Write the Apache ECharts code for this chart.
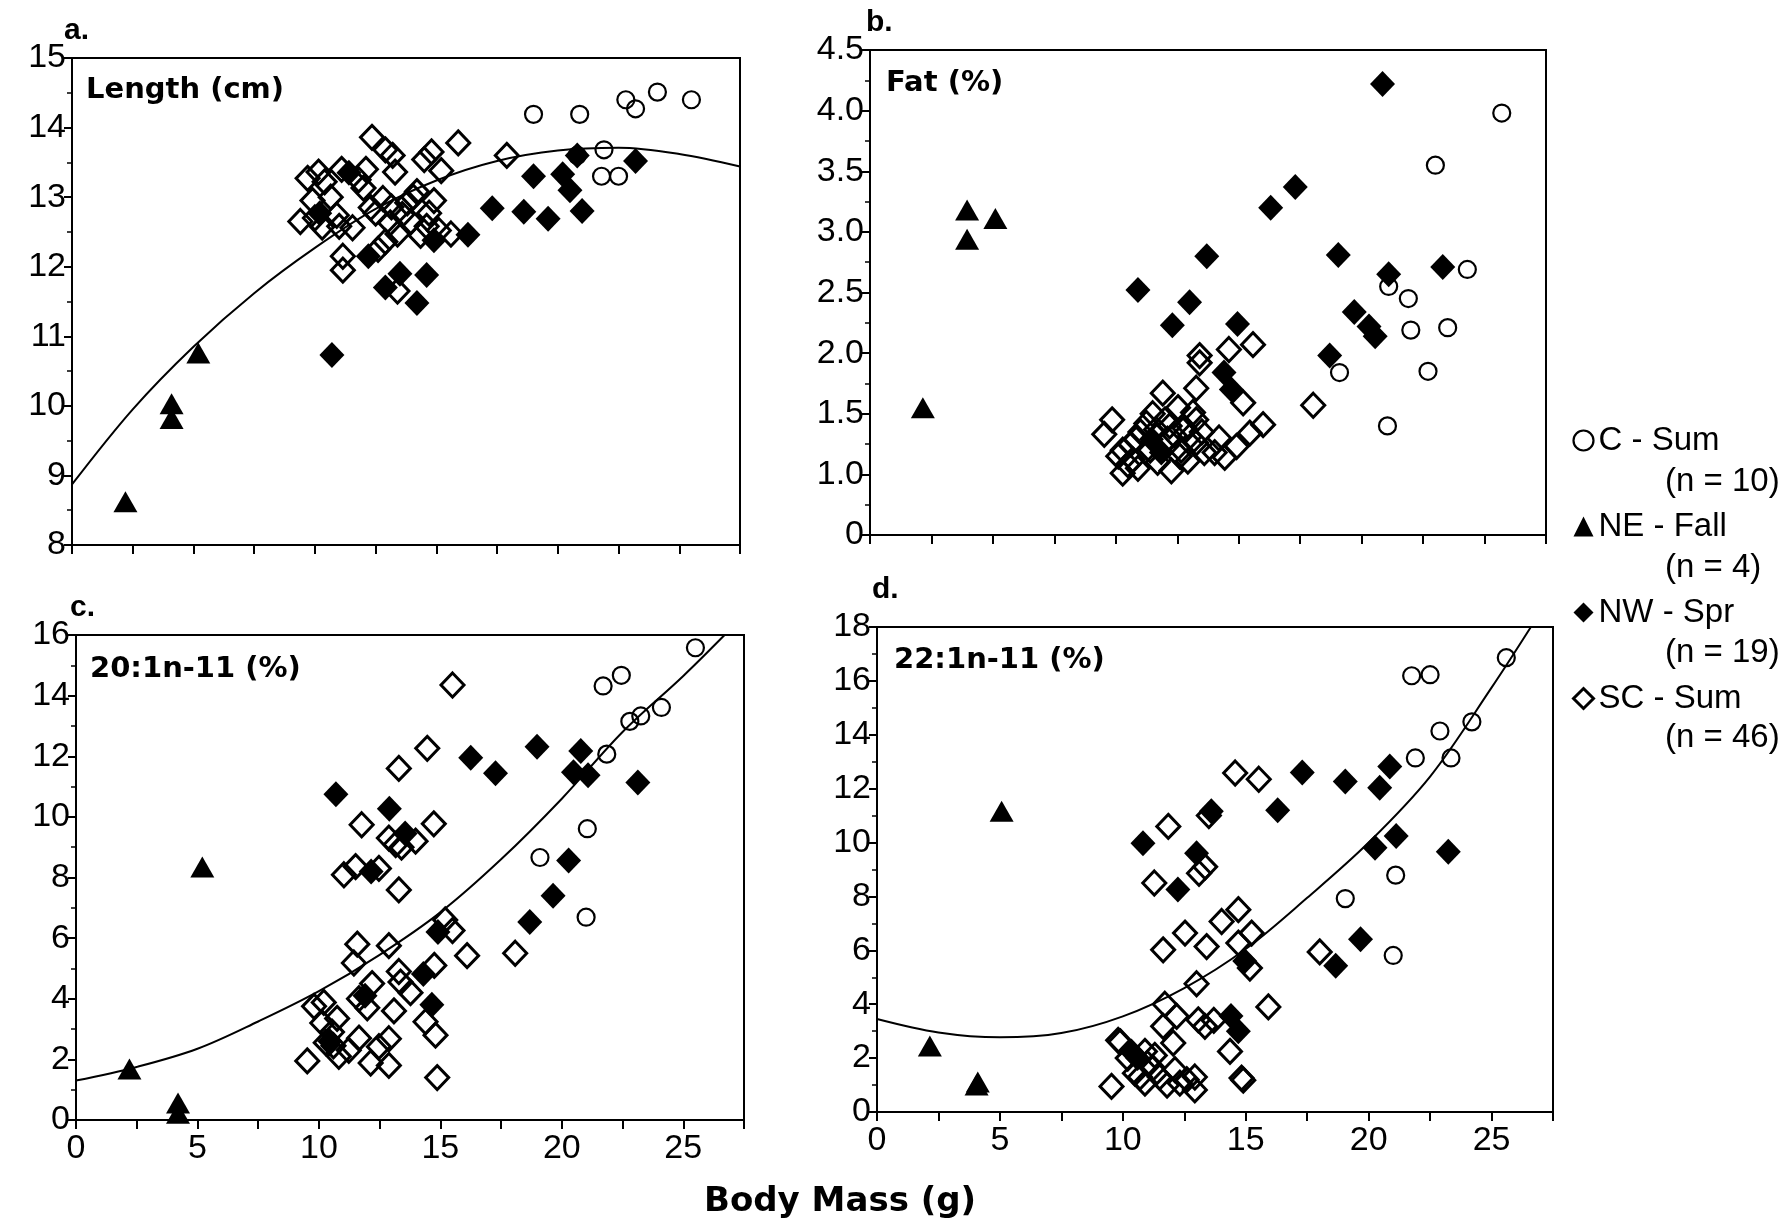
<!DOCTYPE html>
<html>
<head>
<meta charset="utf-8">
<script src="https://cdn.jsdelivr.net/npm/echarts@6/dist/echarts.min.js"></script>
<style>
  html, body { margin: 0; padding: 0; background: #fff; }
  #chart { width: 1791px; height: 1225px; }
</style>
</head>
<body>
<div id="chart"></div>
<script>
// ---- groups (legend order) ----
const groupNames = ['C - Sum', 'NE - Fall', 'NW - Spr', 'SC - Sum'];
const groupCounts = ['(n = 10)', '(n = 4)', '(n = 19)', '(n = 46)'];

// ---- a. Length (cm) vs body mass (g) ----
const lengthC = [[19.0,14.19],[20.9,14.19],[22.8,14.4],[23.2,14.27],[24.1,14.51],[25.5,14.4],[21.9,13.68],[21.8,13.3],[22.5,13.3],[20.8,13.6]];
const lengthNE = [[2.2,8.62],[4.1,10.03],[4.1,9.82],[5.2,10.76]];
const lengthNW = [[10.7,10.73],[12.2,12.15],[12.9,11.7],[13.5,11.9],[14.2,11.48],[14.6,11.88],[14.9,12.38],[16.3,12.46],[17.3,12.84],[18.6,12.79],[19.6,12.69],[19.0,13.3],[20.2,13.33],[20.5,13.1],[21.0,12.8],[20.8,13.6],[23.2,13.52],[11.4,13.35],[10.2,12.77]];
const lengthSC = [[12.35,13.86],[12.9,13.68],[13.2,13.6],[13.3,13.36],[15.9,13.78],[14.5,13.54],[14.8,13.65],[15.2,13.38],[17.9,13.6],[9.7,13.27],[10.15,13.36],[10.4,13.22],[11.1,13.4],[12.1,13.4],[12.0,13.13],[10.65,13.0],[10.9,12.74],[9.4,12.65],[10.3,12.57],[11.55,12.56],[11.15,12.15],[11.15,11.95],[12.8,12.98],[13.15,12.86],[12.5,12.77],[13.1,12.63],[12.9,12.36],[13.4,12.47],[13.8,12.92],[14.2,13.08],[14.7,12.77],[14.9,12.95],[14.6,12.58],[15.6,12.47],[15.1,12.52],[13.4,11.65],[9.9,12.95],[11.8,13.25],[13.6,12.75],[14.35,12.45],[12.6,12.25],[10.0,12.7],[12.3,12.85],[13.95,12.65],[14.05,13.0],[11.0,12.58]];
const lengthFitX = [0, 2.5, 5, 7.5, 10, 12.5, 15, 17.5, 20, 22.5, 25, 27.5];
const lengthFitY = [8.87, 9.95, 10.85, 11.62, 12.27, 12.83, 13.24, 13.52, 13.67, 13.71, 13.62, 13.44];

// ---- b. Fat (%) ----
const fatC = [[25.7,3.98],[23.0,3.55],[24.3,2.69],[21.1,2.55],[21.9,2.45],[22.0,2.19],[23.5,2.21],[19.1,1.84],[22.7,1.85],[21.05,1.4]];
const fatNE = [[2.15,1.55],[3.95,3.18],[3.95,2.94],[5.1,3.11]];
const fatNW = [[20.85,4.22],[17.3,3.37],[16.3,3.2],[13.7,2.8],[10.9,2.52],[13.0,2.42],[12.3,2.23],[14.95,2.24],[19.05,2.81],[23.3,2.71],[21.1,2.65],[19.7,2.34],[20.3,2.22],[20.55,2.14],[18.7,1.98],[14.4,1.84],[14.7,1.7],[11.45,1.29],[11.85,1.18]];
const fatSC = [[15.58,2.07],[14.6,2.03],[13.41,1.98],[13.41,1.92],[13.27,1.71],[11.91,1.67],[15.18,1.59],[9.85,1.45],[9.53,1.33],[12.53,1.55],[13.14,1.51],[13.27,1.45],[11.24,1.42],[12.19,1.4],[15.99,1.41],[15.45,1.34],[14.91,1.23],[14.43,1.14],[14.02,1.18],[13.0,1.31],[13.27,1.26],[12.66,1.2],[12.93,1.11],[12.26,1.03],[10.83,1.29],[10.28,1.2],[10.28,1.01],[10.49,1.08],[10.69,1.12],[11.64,1.37],[12.6,1.15],[12.1,1.29],[18.03,1.57],[10.6,1.25],[11.0,1.35],[11.4,1.2],[11.7,1.1],[12.0,1.45],[12.8,1.38],[13.5,1.35],[10.1,1.15],[11.5,1.5],[13.6,1.18],[12.4,1.32],[10.9,1.05],[14.2,1.3]];

// ---- c. 20:1n-11 (%) ----
const eicC = [[25.5,15.58],[21.7,14.32],[22.45,14.67],[22.8,13.15],[23.25,13.33],[24.1,13.61],[21.85,12.07],[21.05,9.61],[19.1,8.66],[21.0,6.69]];
const eicNE = [[2.2,1.68],[4.2,0.56],[4.2,0.22],[5.2,8.35]];
const eicNW = [[10.7,10.75],[12.9,10.27],[13.55,9.45],[12.15,8.2],[16.25,11.95],[17.27,11.44],[18.98,12.31],[20.78,12.17],[20.48,11.47],[21.08,11.37],[23.13,11.13],[20.28,8.56],[19.64,7.4],[18.68,6.53],[14.9,6.2],[14.3,4.82],[14.65,3.8],[10.45,2.6],[11.9,4.1]];
const eicSC = [[14.46,12.26],[13.29,11.6],[11.76,9.74],[14.73,9.77],[12.88,9.3],[13.16,9.09],[13.4,9.0],[13.98,9.2],[11.03,8.09],[11.51,8.36],[12.47,8.3],[13.29,7.59],[15.5,14.35],[18.08,5.5],[16.1,5.42],[15.2,6.6],[15.5,6.25],[11.58,5.8],[11.44,5.18],[12.88,5.75],[13.29,4.9],[13.36,4.55],[13.77,4.2],[12.19,4.5],[11.65,4.0],[11.99,3.7],[13.09,3.6],[14.75,5.1],[14.39,3.24],[14.8,2.8],[14.87,1.4],[9.52,1.95],[9.8,3.75],[10.2,3.88],[10.14,3.2],[10.75,3.35],[10.54,2.9],[10.82,2.1],[11.23,2.3],[11.65,2.7],[12.13,1.88],[12.47,2.42],[12.88,2.68],[12.88,1.8],[10.28,2.55],[10.6,2.45]];
const eicFitX = [0, 2.5, 5, 7.5, 10, 12.5, 15, 17.5, 20, 22.5, 25, 26.7];
const eicFitY = [1.3, 1.75, 2.35, 3.25, 4.25, 5.45, 6.85, 8.6, 10.6, 12.8, 14.65, 16.0];

// ---- d. 22:1n-11 (%) ----
const ercC = [[25.6,16.86],[21.75,16.19],[22.5,16.23],[24.2,14.48],[22.9,14.14],[21.9,13.14],[23.35,13.14],[21.1,8.79],[19.05,7.92],[21.0,5.81]];
const ercNE = [[2.15,2.45],[4.1,1.11],[4.05,1.0],[5.07,11.16]];
const ercNW = [[10.82,9.97],[12.24,8.26],[13.0,9.6],[13.6,11.16],[16.3,11.2],[17.3,12.6],[19.05,12.27],[20.45,12.03],[20.86,12.82],[21.12,10.24],[20.26,9.81],[23.24,9.66],[19.67,6.41],[18.66,5.43],[14.96,5.6],[14.4,3.56],[14.7,3.0],[10.35,2.25],[10.6,2.0]];
const ercSC = [[14.7,7.51],[14.02,7.07],[12.53,6.64],[11.64,6.02],[13.41,6.14],[15.24,6.64],[14.7,6.27],[15.17,5.34],[13.0,4.76],[15.92,3.9],[11.71,4.0],[12.19,3.55],[11.64,3.18],[12.05,2.56],[13.07,3.42],[13.34,3.18],[13.7,3.4],[14.36,2.25],[14.83,1.26],[14.9,1.18],[9.81,2.66],[10.9,2.25],[9.54,0.95],[10.49,1.44],[10.9,1.07],[11.23,1.63],[11.5,1.3],[12.12,1.57],[12.32,1.07],[12.93,1.3],[12.93,0.82],[11.85,10.6],[11.28,8.5],[13.1,8.86],[13.35,9.1],[14.57,12.58],[15.53,12.35],[13.5,11.0],[18.01,5.94],[10.2,2.0],[11.0,1.8],[12.6,1.2],[11.8,1.0],[10.7,1.3],[9.9,2.6],[11.3,2.1]];
const ercFitX = [0, 2.5, 5, 7.5, 10, 12.5, 15, 17.5, 20, 22.5, 25, 26.6];
const ercFitY = [3.45, 2.95, 2.77, 2.93, 3.55, 4.6, 6.05, 7.95, 10.0, 12.45, 15.75, 18.0];

// ---- panel texts ----
const panelLetters = ['a.', 'b.', 'c.', 'd.'];
const panelTitles = ['Length (cm)', 'Fat (%)', '20:1n-11 (%)', '22:1n-11 (%)'];
const xTitle = 'Body Mass (g)';

const TICK_FONT = 'Liberation Sans';

// plot boxes
const grids = [
  { left: 72,  top: 58,  width: 668, height: 487 },
  { left: 870, top: 50,  width: 676, height: 485 },
  { left: 76,  top: 635, width: 668, height: 485 },
  { left: 877, top: 627, width: 676, height: 485 }
];

const yRanges = [
  { min: 8,   max: 15,  interval: 1 },
  { min: 0.5, max: 4.5, interval: 0.5 },
  { min: 0,   max: 16,  interval: 2 },
  { min: 0,   max: 18,  interval: 2 }
];

const pts = [
  [lengthC, lengthNE, lengthNW, lengthSC],
  [fatC, fatNE, fatNW, fatSC],
  [eicC, eicNE, eicNW, eicSC],
  [ercC, ercNE, ercNW, ercSC]
];
const fits = [
  [lengthFitX, lengthFitY], null, [eicFitX, eicFitY], [ercFitX, ercFitY]
];

const styles = {
  'C - Sum':   { symbol: 'circle',   size: 17,       itemStyle: { color: 'rgba(255,255,255,0)', borderColor: '#000', borderWidth: 2.2, opacity: 1 } },
  'NE - Fall': { symbol: 'triangle', size: [24, 21], itemStyle: { color: '#000', opacity: 1 } },
  'NW - Spr':  { symbol: 'diamond',  size: [25, 26], itemStyle: { color: '#000', opacity: 1 } },
  'SC - Sum':  { symbol: 'diamond',  size: [23, 24], itemStyle: { color: 'rgba(255,255,255,0)', borderColor: '#000', borderWidth: 3, opacity: 1 } }
};
// drawing order: open diamonds first, filled diamonds, circles, triangles on top
const drawOrder = [3, 2, 0, 1];

const xAxes = [], yAxes = [], series = [];
grids.forEach((g, i) => {
  const bottomRow = i >= 2;
  xAxes.push({
    gridIndex: i, type: 'value', min: 0, max: 27.5, interval: 2.5,
    axisLine: { show: true, onZero: false, lineStyle: { color: '#000', width: 2 } },
    axisTick: { show: true, length: 9, lineStyle: { color: '#000', width: 2 } },
    splitLine: { show: false },
    axisLabel: {
      show: bottomRow, margin: 12, color: '#000', fontFamily: TICK_FONT, fontSize: 34,
      formatter: v => (Math.abs(v % 5) < 1e-9 ? String(v) : '')
    }
  });
  const yr = yRanges[i];
  yAxes.push({
    gridIndex: i, type: 'value', min: yr.min, max: yr.max, interval: yr.interval,
    axisLine: { show: true, onZero: false, lineStyle: { color: '#000', width: 2 } },
    axisTick: { show: true, length: 8, lineStyle: { color: '#000', width: 2 } },
    minorTick: { show: true, splitNumber: 2, length: 5, lineStyle: { color: '#000', width: 1.5 } },
    splitLine: { show: false },
    minorSplitLine: { show: false },
    axisLabel: {
      margin: 6, color: '#000', fontFamily: TICK_FONT, fontSize: 34,
      formatter: i === 1
        ? (v => (Math.abs(v - 0.5) < 1e-9 ? '0' : v.toFixed(1)))
        : (v => String(v))
    }
  });

  drawOrder.forEach(k => {
    const name = groupNames[k];
    const st = styles[name];
    series.push({
      type: 'scatter', name, xAxisIndex: i, yAxisIndex: i,
      data: pts[i][k], symbol: st.symbol, symbolSize: st.size,
      itemStyle: st.itemStyle, z: 3 + drawOrder.indexOf(k),
      emphasis: { disabled: true }
    });
  });

  const f = fits[i];
  if (f) {
    series.push({
      type: 'line', xAxisIndex: i, yAxisIndex: i,
      data: f[0].map((x, j) => [x, f[1][j]]),
      smooth: 0.35, showSymbol: false, symbol: 'none',
      lineStyle: { color: '#000', width: 2 }, z: 2, silent: true, clip: true
    });
  }
});

// panel letters and inner titles (baseline positions)
const letterPos = [[64, 43], [866, 35], [70, 620], [872, 602]];
const titlePos = [[86, 102], [886, 95], [90, 681], [894, 672]];
const graphics = [];
panelLetters.forEach((t, i) => {
  graphics.push({
    type: 'text', left: letterPos[i][0], top: letterPos[i][1] - 27,
    style: { text: t, font: 'bold 30px "Liberation Sans"', fill: '#000' }
  });
});
panelTitles.forEach((t, i) => {
  graphics.push({
    type: 'text', left: titlePos[i][0], top: titlePos[i][1] - 26,
    style: { text: t, font: 'bold 29px "DejaVu Sans"', fill: '#000' }
  });
});
// second line of each legend entry
const countTop = [465, 551, 636, 721];
groupCounts.forEach((t, i) => {
  graphics.push({
    type: 'text', left: 1665, top: countTop[i],
    style: { text: t, font: '33px "Liberation Sans"', fill: '#000' }
  });
});
graphics.push({
  type: 'text', left: 704, top: 1185,
  style: { text: xTitle, font: 'bold 34px "DejaVu Sans"', fill: '#000' }
});

const option = {
  animation: false,
  backgroundColor: '#fff',
  grid: grids.map(g => Object.assign({ show: true, borderColor: '#000', borderWidth: 2, backgroundColor: 'transparent' }, g)),
  xAxis: xAxes,
  yAxis: yAxes,
  legend: {
    orient: 'vertical', left: 1567, top: 419, itemGap: 53,
    itemWidth: 20, itemHeight: 20, itemStyle: { borderWidth: 'inherit' },
    textStyle: { fontFamily: TICK_FONT, fontSize: 33, color: '#000', lineHeight: 33 },
    selectedMode: false,
    data: groupNames.map(n => ({ name: n }))
  },
  graphic: graphics,
  series
};

const chart = echarts.init(document.getElementById('chart'), null, { renderer: 'canvas' });
chart.setOption(option);
</script>
</body>
</html>
